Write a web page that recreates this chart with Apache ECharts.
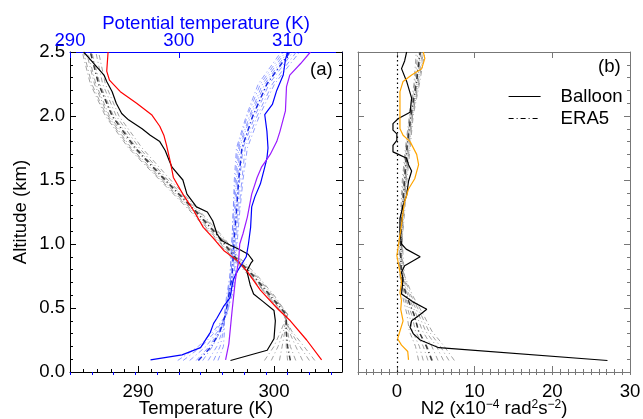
<!DOCTYPE html>
<html>
<head>
<meta charset="utf-8">
<script src="https://cdn.jsdelivr.net/npm/echarts@6/dist/echarts.min.js"></script>
<style>html,body{margin:0;padding:0;background:#fff}#c{width:643px;height:419px}</style>
</head>
<body>
<div id="c"></div>
<script>
// ---------------- DATA ----------------
// Balloon temperature (K)
const balloonTAlt = [0.09,0.17,0.26,0.40,0.48,0.55,0.61,0.68,0.79,0.85,0.87,0.92,0.955,0.99,1.03,1.08,1.18,1.25,1.29,1.39,1.50,1.60,1.65,1.73,1.80,1.85,1.90,1.97,2.02,2.10,2.19,2.27,2.32,2.44,2.50];
const balloonT    = [296.8,299.5,300.0,300.1,300.0,299.2,298.5,298.25,298.0,298.3,298.45,298.1,297.5,296.8,296.1,295.8,295.5,295.1,294.3,293.6,293.3,292.5,292.3,292.0,291.6,290.9,290.3,289.3,288.8,288.4,288.1,287.7,287.5,286.5,286.0];
// Second profile temperature (red)
const redTAlt = [0.095,0.25,0.40,0.49,0.64,0.79,0.87,0.95,1.05,1.13,1.26,1.39,1.52,1.63,1.77,1.85,1.92,2.01,2.10,2.19,2.28,2.35,2.50];
const redT    = [303.5,302.4,301.2,300.3,299.0,298.0,297.3,296.3,295.5,294.8,294.1,293.3,292.6,292.4,292.1,291.9,291.6,291.0,289.9,288.7,287.9,287.7,287.8];
// Balloon potential temperature (K)
const balloonThAlt = [0.095,0.134,0.19,0.31,0.38,0.42,0.51,0.58,0.72,0.79,0.90,1.00,1.13,1.29,1.37,1.47,1.60,1.67,1.75,1.88,2.01,2.09,2.20,2.32,2.44,2.50];
const balloonTheta = [297.4,300.3,302.0,302.9,303.2,303.5,304.1,304.7,305.0,305.4,306.2,306.4,306.6,306.7,307.0,307.5,307.9,308.1,308.2,308.1,307.9,308.6,309.0,309.6,309.8,310.0];
// Second profile potential temperature (purple)
const purpleAlt   = [0.095,0.22,0.48,0.72,0.87,1.00,1.08,1.21,1.39,1.52,1.60,1.65,1.70,1.80,1.88,2.04,2.23,2.32,2.41,2.50];
const purpleTheta = [304.3,304.6,304.9,305.2,305.5,305.6,305.9,306.3,306.7,307.2,307.6,308.0,308.4,309.0,309.3,309.8,309.9,310.2,311.2,312.1];
// Balloon N2 (x1e-4 rad2 s-2)
const balloonN2Alt = [0.09,0.19,0.25,0.30,0.35,0.40,0.44,0.49,0.55,0.61,0.67,0.73,0.78,0.83,0.90,0.96,1.00,1.09,1.20,1.30,1.38,1.49,1.57,1.62,1.67,1.70,1.72,1.77,1.81,1.86,1.89,1.94,1.98,2.03,2.14,2.27,2.37,2.43,2.50];
const balloonN2    = [27.1,5.4,3.0,2.1,1.7,1.9,2.8,3.85,2.0,0.6,0.7,0.8,0.6,1.0,3.0,1.2,0.6,0.4,0.4,0.8,1.26,1.5,1.9,1.5,1.26,0.2,-0.5,-0.5,0.0,0.0,-0.5,-0.5,0.2,1.7,1.9,1.26,0.6,1.0,1.26];
// Second profile N2 (orange)
const orangeAlt = [0.095,0.16,0.21,0.26,0.32,0.40,0.49,0.56,0.62,0.70,0.78,0.91,0.99,1.15,1.25,1.33,1.43,1.51,1.62,1.70,1.80,1.85,1.90,2.01,2.19,2.27,2.32,2.37,2.45,2.50];
const orangeN2  = [1.5,1.4,0.6,0.1,0.4,0.8,0.5,0.6,0.4,0.6,0.4,0.0,0.2,0.6,0.8,1.0,1.5,2.3,2.8,2.55,1.7,0.8,0.4,0.4,0.4,0.8,1.9,3.2,3.6,3.4];

// ERA5 profiles (levels in km)
const era5Alt = [0.09,0.2,0.32,0.45,0.6,0.75,0.9,1.05,1.25,1.5,1.75,2.0,2.25,2.5];
const era5TMean = [301.2,301.0,300.9,300.9,299.7,298.5,297.1,296.0,294.3,292.0,289.8,288.1,287.1,286.5];
const era5T = [
  [299.3,300.0,300.5,301.0,300.0,298.8,297.4,296.3,294.6,292.4,290.3,288.6,287.6,287.1],
  [299.8,300.3,300.7,301.0,299.9,298.7,297.3,296.2,294.5,292.2,290.1,288.4,287.4,286.9],
  [300.4,300.6,300.8,301.0,299.8,298.6,297.2,296.1,294.4,292.1,289.9,288.2,287.2,286.6],
  [301.0,300.9,300.9,300.9,299.7,298.5,297.1,296.0,294.3,292.0,289.8,288.1,287.1,286.5],
  [301.6,301.2,301.0,300.8,299.6,298.4,297.0,295.9,294.2,291.9,289.7,287.9,286.9,286.3],
  [302.1,301.6,301.1,300.8,299.6,298.3,296.9,295.8,294.1,291.8,289.5,287.8,286.8,286.2],
  [302.6,301.9,301.2,300.7,299.5,298.3,296.9,295.7,294.0,291.7,289.4,287.7,286.6,286.0],
  [303.0,302.2,301.3,300.7,299.5,298.2,296.8,295.6,293.9,291.6,289.3,287.6,286.5,285.9]
];
const era5ThetaMean = [301.8,303.0,303.8,304.3,304.6,304.9,305.0,305.1,305.3,305.5,305.8,306.8,308.1,310.2];
const era5Theta = [
  [299.9,301.8,303.2,304.4,304.9,305.2,305.3,305.4,305.6,305.9,306.3,307.4,308.8,311.1],
  [300.4,302.1,303.4,304.4,304.8,305.1,305.2,305.3,305.5,305.8,306.1,307.2,308.6,310.8],
  [301.0,302.5,303.6,304.4,304.7,305.0,305.1,305.2,305.4,305.6,305.9,307.0,308.3,310.5],
  [301.6,302.8,303.7,304.3,304.6,304.9,305.0,305.1,305.3,305.5,305.8,306.8,308.1,310.3],
  [302.2,303.1,303.8,304.3,304.6,304.8,304.9,305.0,305.2,305.4,305.6,306.6,307.9,310.0],
  [302.7,303.5,304.0,304.3,304.5,304.8,304.9,305.0,305.1,305.3,305.5,306.5,307.7,309.8],
  [303.2,303.8,304.1,304.2,304.5,304.7,304.8,304.9,305.0,305.2,305.4,306.3,307.5,309.6],
  [303.6,304.1,304.2,304.2,304.4,304.7,304.8,304.9,305.0,305.1,305.3,306.2,307.3,309.4]
];
const era5N2Mean = [4.5,3.8,2.8,2.2,1.2,0.6,0.5,0.5,0.7,1.0,1.3,1.8,2.5,3.0];
const era5N2 = [
  [2.8,2.4,1.6,1.3,0.7,0.4,0.3,0.3,0.5,0.7,1.1,1.6,2.2,2.5],
  [3.4,2.9,2.0,1.6,0.9,0.5,0.4,0.4,0.6,0.8,1.2,1.7,2.3,2.7],
  [4.0,3.4,2.4,1.9,1.0,0.5,0.4,0.4,0.6,0.9,1.2,1.7,2.4,2.9],
  [4.6,3.9,2.8,2.2,1.2,0.6,0.5,0.5,0.7,1.0,1.3,1.8,2.5,3.0],
  [5.3,4.5,3.3,2.5,1.4,0.7,0.6,0.6,0.8,1.1,1.4,1.9,2.6,3.1],
  [6.0,5.1,3.7,2.8,1.6,0.8,0.6,0.6,0.8,1.1,1.5,2.0,2.7,3.3],
  [6.7,5.6,4.1,3.1,1.8,0.9,0.7,0.7,0.9,1.2,1.6,2.0,2.8,3.4],
  [7.4,6.1,4.5,3.4,2.0,1.0,0.8,0.7,1.0,1.3,1.7,2.1,2.9,3.6]
];

// Tick labels
const tempLabels  = [290, 300];
const thetaLabels = [290, 300, 310];
const n2Labels    = [0, 10, 20, 30];

// ---------------- CHART ----------------
const FONT = '"Liberation Sans", Arial, Helvetica, sans-serif';
const FS = 18.6;
const DASHDOT = [5, 3, 1, 3];
function zip(vals, alts) { return vals.map((v, i) => [v, alts[i]]); }
function range(a, b, s) { const r = []; for (let v = a; v <= b + 1e-9; v += s) r.push(+v.toFixed(6)); return r; }

const AX = '#000';
const AX2 = '#777';

function xMajor(grid, pos, min, max, ticks, labels, color, extra) {
  return Object.assign({
    gridIndex: grid, type: 'value', position: pos, min: min, max: max,
    nameMoveOverlap: false,
    axisLine: { show: true, onZero: false, lineStyle: { color: color, width: 1 } },
    axisTick: { show: true, inside: true, length: 6, customValues: ticks, lineStyle: { color: color } },
    axisLabel: labels ? { show: true, customValues: labels, fontFamily: FONT, fontSize: FS, color: color === AX2 ? '#000' : color, margin: pos === 'top' ? 2 : 10 } : { show: false },
    splitLine: { show: false }
  }, extra || {});
}
function xMinor(grid, pos, min, max, ticks, color) {
  return {
    gridIndex: grid, type: 'value', position: pos, min: min, max: max,
    axisLine: { show: false },
    axisTick: { show: true, inside: true, length: 3, customValues: ticks, lineStyle: { color: color } },
    axisLabel: { show: false }, splitLine: { show: false }
  };
}
function yAx(grid, pos, labels, color, extra) {
  return Object.assign({
    gridIndex: grid, type: 'value', position: pos, min: 0, max: 2.5, interval: 0.5,
    nameMoveOverlap: false,
    axisLine: { show: true, onZero: false, lineStyle: { color: color } },
    axisTick: { show: true, inside: true, length: 6, lineStyle: { color: color } },
    minorTick: { show: true, splitNumber: 5, length: 3, lineStyle: { color: color } },
    axisLabel: labels ? { show: true, formatter: v => v.toFixed(1), fontFamily: FONT, fontSize: FS, color: '#000', margin: 5 } : { show: false },
    splitLine: { show: false }, minorSplitLine: { show: false }
  }, extra || {});
}

const series = [];
function line(name, data, xi, yi, color, width, dash, z) {
  series.push({
    name: name, type: 'line', data: data, xAxisIndex: xi, yAxisIndex: yi,
    symbol: 'none', showSymbol: false, silent: true, animation: false, z: z || 2,
    lineStyle: { color: color, width: width, type: dash || 'solid' }
  });
}
// Left panel: ERA5 temperature & potential temperature
era5T.forEach((m, i) => line('era5T' + i, zip(m, era5Alt), 0, 0, '#8a8a8a', 0.8, DASHDOT, 2));
line('era5TMean', zip(era5TMean, era5Alt), 0, 0, '#3a3a3a', 1.5, DASHDOT, 3);
era5Theta.forEach((m, i) => line('era5Th' + i, zip(m, era5Alt), 2, 0, '#7584ff', 0.8, DASHDOT, 2));
line('era5ThMean', zip(era5ThetaMean, era5Alt), 2, 0, '#1a2ae6', 1.5, DASHDOT, 3);
line('balloonT', zip(balloonT, balloonTAlt), 0, 0, '#000000', 1.2, 'solid', 5);
line('redT', zip(redT, redTAlt), 0, 0, '#ff0000', 1.2, 'solid', 5);
line('balloonTheta', zip(balloonTheta, balloonThAlt), 2, 0, '#0000ff', 1.2, 'solid', 5);
line('purpleTheta', zip(purpleTheta, purpleAlt), 2, 0, '#9b1bff', 1.2, 'solid', 5);
// Right panel: N2
era5N2.forEach((m, i) => line('era5N2_' + i, zip(m, era5Alt), 4, 2, '#8a8a8a', 0.8, DASHDOT, 2));
line('ERA5', zip(era5N2Mean, era5Alt), 4, 2, '#3a3a3a', 1.5, DASHDOT, 3);
line('Balloon', zip(balloonN2, balloonN2Alt), 4, 2, '#000000', 1.2, 'solid', 5);
line('orangeN2', zip(orangeN2, orangeAlt), 4, 2, '#ffa500', 1.2, 'solid', 5);
series[series.length - 1].markLine = {
  silent: true, symbol: ['none', 'none'], animation: false, label: { show: false },
  lineStyle: { color: '#000', type: [1.5, 3], width: 1.2 },
  data: [{ xAxis: 0 }]
};

const option = {
  backgroundColor: '#fff',
  animation: false,
  textStyle: { fontFamily: FONT },
  grid: [
    { left: 70, top: 52, width: 272, height: 320, outerBoundsMode: 'none', containLabel: false },
    { left: 358, top: 52, width: 272, height: 320, outerBoundsMode: 'none', containLabel: false }
  ],
  xAxis: [
    xMajor(0, 'bottom', 285, 305, tempLabels, tempLabels, AX, {
      name: 'Temperature (K)', nameLocation: 'middle', nameGap: 27,
      nameTextStyle: { fontFamily: FONT, fontSize: FS, color: '#000', verticalAlign: 'top' } }),
    xMinor(0, 'bottom', 285, 305, range(285, 305, 1), AX),
    xMajor(0, 'top', 290, 315, thetaLabels, thetaLabels, '#0000ff', {
      name: 'Potential temperature (K)', nameLocation: 'middle', nameGap: 19,
      nameTextStyle: { fontFamily: FONT, fontSize: FS, color: '#0000ff', verticalAlign: 'bottom' } }),
    xMinor(0, 'top', 290, 315, range(290, 314, 2), '#0000ff'),
    xMajor(1, 'bottom', -5, 30, n2Labels, n2Labels, AX2, {
      name: 'N2 (x10{s|−4} rad{s|2}s{s|−2})', nameLocation: 'middle', nameGap: 27,
      nameTextStyle: { fontFamily: FONT, fontSize: FS, color: '#000', verticalAlign: 'top',
        rich: { s: { fontFamily: FONT, fontSize: 12, lineHeight: 12, verticalAlign: 'top', color: '#000' } } } }),
    xMinor(1, 'bottom', -5, 30, range(-5, 30, 1), AX2),
    xMajor(1, 'top', -5, 30, n2Labels, null, AX2),
    xMinor(1, 'top', -5, 30, range(-5, 30, 1), AX2)
  ],
  yAxis: [
    yAx(0, 'left', true, AX, { name: 'Altitude (km)', nameLocation: 'middle', nameGap: 40,
      nameTextStyle: { fontFamily: FONT, fontSize: FS, color: '#000' } }),
    yAx(0, 'right', false, AX),
    yAx(1, 'left', false, AX2),
    yAx(1, 'right', false, AX2)
  ],
  legend: {
    orient: 'vertical', left: 508, top: 87, padding: 0, itemWidth: 32, itemHeight: 14, itemGap: 3,
    selectedMode: false,
    textStyle: { fontFamily: FONT, fontSize: FS, color: '#000', padding: [0, 0, 0, 15], lineHeight: 18 },
    data: [
      { name: 'Balloon', itemStyle: { opacity: 0 }, lineStyle: { color: '#000', width: 1.2, type: 'solid' } },
      { name: 'ERA5', itemStyle: { opacity: 0 }, lineStyle: { color: '#000', width: 1.2, type: DASHDOT } }
    ]
  },
  graphic: [
    { type: 'text', left: 310, top: 60, style: { text: '(a)', fontFamily: FONT, fontSize: FS, fill: '#000' } },
    { type: 'text', left: 598, top: 57, style: { text: '(b)', fontFamily: FONT, fontSize: FS, fill: '#000' } }
  ],
  series: series
};

const chart = echarts.init(document.getElementById('c'), null, { renderer: 'canvas' });
chart.setOption(option);
</script>
</body>
</html>
